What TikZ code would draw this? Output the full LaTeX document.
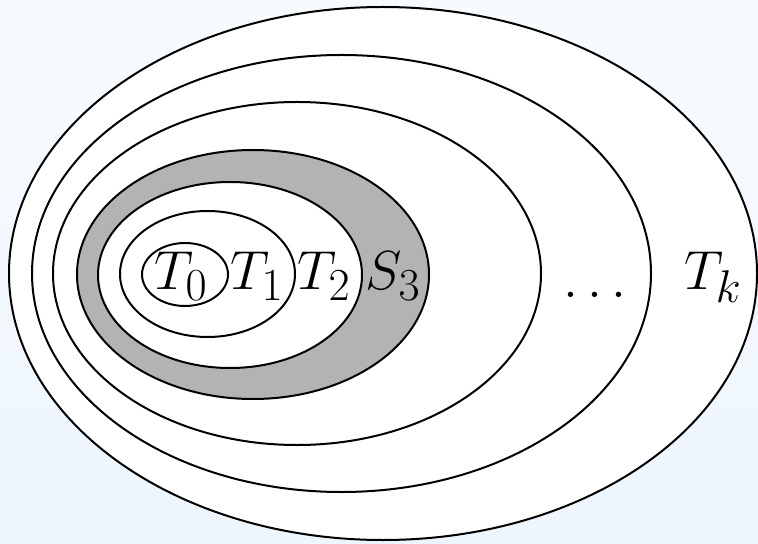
\documentclass[tikz,border=0pt]{standalone}
\usetikzlibrary{shapes.geometric}
\definecolor{bgtop}{RGB}{247,251,254}
\definecolor{bgbot}{RGB}{237,245,253}
\definecolor{ringgray}{RGB}{179,179,179}

\begin{document}
\begin{tikzpicture}[
  x=0.5pt, y=-0.5pt,
  set/.style={ellipse, draw=black, line width=1pt, fill=white, inner sep=0pt},
  lbl/.style={anchor=base, inner sep=0pt, font=\Huge, scale=1.105, transform shape},
]
% ---- background (fixes the page) ----
\shade[top color=bgtop, bottom color=bgbot] (0,0) rectangle (758,544);

% ---- nested sets, outermost first ----
\node[set, minimum width=374pt, minimum height=266.5pt] (Tk) at (383,273.5) {};
\node[set, minimum width=309.5pt, minimum height=218.5pt] (Tdots) at (341.5,273.5) {};
\node[set, minimum width=244pt, minimum height=171.5pt] (T3) at (297,273.5) {};
\node[set, fill=ringgray, minimum width=176pt, minimum height=124.5pt] (S3) at (253,274.5) {};
\node[set, minimum width=132pt, minimum height=93pt] (T2) at (230,275) {};
\node[set, minimum width=87.5pt, minimum height=63pt] (T1) at (207.5,274) {};
\node[set, minimum width=43pt, minimum height=31.5pt] (T0) at (185,274.5) {};

% ---- labels ----
\node[lbl] (lT0) at (181,290) {$T_0$};
\node[lbl] (lT1) at (257,290) {$T_1$};
\node[lbl] (lT2) at (324,290) {$T_2$};
\node[lbl] (lS3) at (393,290) {$S_3$};
\node[lbl] (ldots) at (595,298) {$\ldots$};
\node[lbl] (lTk) at (713,290) {$T_k$};
\end{tikzpicture}
\end{document}
